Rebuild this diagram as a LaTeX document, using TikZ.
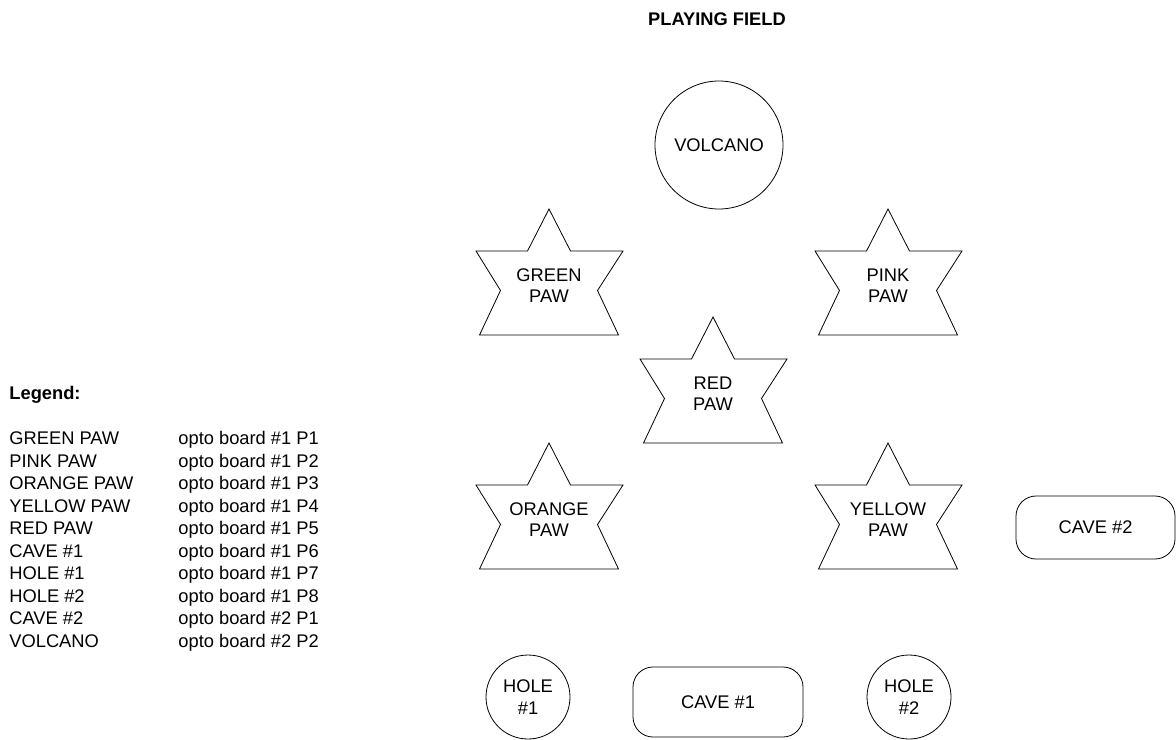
\documentclass[tikz,border=0pt]{standalone}
\usepackage{fontspec}
\setmainfont{Liberation Sans}

\begin{document}
\begin{tikzpicture}[x=0.5pt, y=-0.5pt, font=\fontsize{9.15}{10.75}\selectfont,
  fieldtext/.style={align=center, inner sep=0pt},
  spot/.style={draw, circle, align=center, inner sep=0pt},
  cave/.style={draw, rounded corners=10pt, inner sep=0pt},
  pics/paw/.style 2 args={code={
    \draw[line join=miter] (0,0) -- (21.5,42) -- (74,42) -- (48.5,81.5) -- (69.5,126)
      -- (-69.5,126) -- (-48.5,81.5) -- (-73,42) -- (-21.5,42) -- cycle;
    \node[fieldtext] (-text) at (0,76.5) {#1\\#2};
  }}]
  \useasboundingbox (0,0) rectangle (1176,739);

  \node[fieldtext, font=\fontsize{9.15}{10.75}\selectfont\bfseries] (title) at (717,19) {PLAYING FIELD};

  % field
  \node[spot, minimum size=64pt] (volcano) at (719,145) {VOLCANO};
  \pic (green) at (549,209) {paw={GREEN}{PAW}};
  \pic (pink) at (888,209) {paw={PINK}{PAW}};
  \pic (red) at (713,317) {paw={RED}{PAW}};
  \pic (orange) at (549,443) {paw={ORANGE}{PAW}};
  \pic (yellow) at (888,443) {paw={YELLOW}{PAW}};
  \node[cave, minimum width=79.5pt, minimum height=31.5pt] (cave2) at (1095.5,527.5) {CAVE \#2};
  \node[spot, minimum size=42pt] (hole1) at (528,697) {HOLE\\\#1};
  \node[cave, minimum width=85pt, minimum height=35pt] (cave1) at (718,702) {CAVE \#1};
  \node[spot, minimum size=42pt] (hole2) at (909,697) {HOLE\\\#2};

  % legend
  \node[anchor=base west, inner sep=0pt] (legend) at (9,399.5) {\fontsize{9.15}{11.25}\selectfont
    \begin{tabular}[t]{@{}p{84.5pt}@{}l@{}}
      \textbf{Legend:} & \\
      & \\
      GREEN PAW & opto board \#1 P1\\
      PINK PAW & opto board \#1 P2\\
      ORANGE PAW & opto board \#1 P3\\
      YELLOW PAW & opto board \#1 P4\\
      RED PAW & opto board \#1 P5\\
      CAVE \#1 & opto board \#1 P6\\
      HOLE \#1 & opto board \#1 P7\\
      HOLE \#2 & opto board \#1 P8\\
      CAVE \#2 & opto board \#2 P1\\
      VOLCANO & opto board \#2 P2
    \end{tabular}};
\end{tikzpicture}
\end{document}
